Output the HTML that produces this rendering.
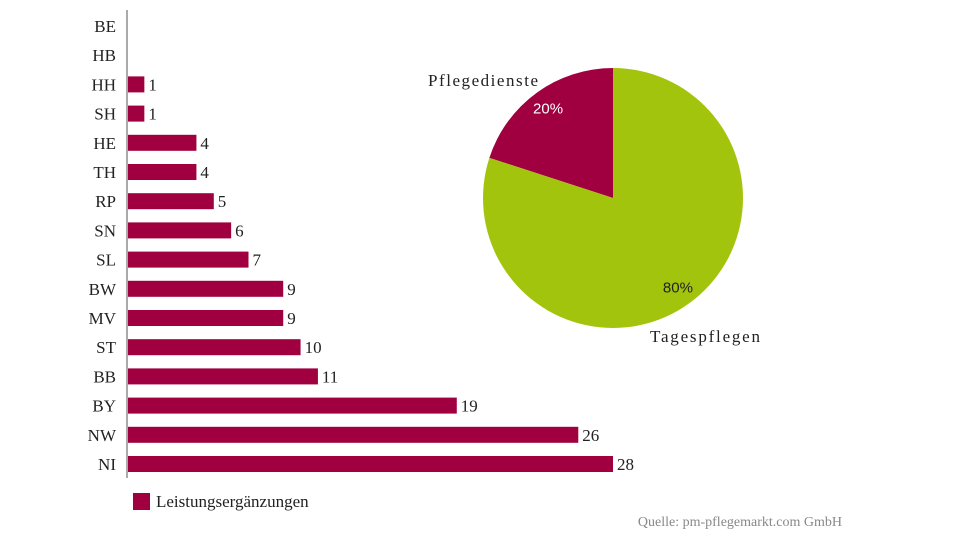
<!DOCTYPE html>
<html><head><meta charset="utf-8"><style>
body{margin:0;width:960px;height:540px;background:#fff;overflow:hidden}
svg{display:block}
.lab{font-family:"Liberation Serif",serif;font-size:17px;fill:#222}
</style></head><body>
<svg id="c" width="960" height="540"></svg>
<script>
const categories=["BE","HB","HH","SH","HE","TH","RP","SN","SL","BW","MV","ST","BB","BY","NW","NI"];
const values=[0,0,1,1,4,4,5,6,7,9,9,10,11,19,26,28];
const pieLabels=["Pflegedienste","Tagespflegen"];
const pieValues=[20,80];
const NS="http://www.w3.org/2000/svg";
const svg=document.getElementById('c');
function mk(t,a,p){const e=document.createElementNS(NS,t);for(const k in a)e.setAttribute(k,a[k]);(p||svg).appendChild(e);return e;}
const x0=127,scale=(613-127)/28;
const xs=v=>x0+v*scale;
const ys=i=>26+i*29.2;
const axis=mk('line',{x1:x0,y1:10,x2:x0,y2:478,stroke:'#555','stroke-width':1});


categories.forEach((c,i)=>{
  const t=mk('text',{x:116,y:ys(i)+6,'text-anchor':'end',class:'lab'});t.textContent=c;
  
  
  if(values[i]>0){
    const r=mk('rect',{x:x0+1,y:ys(i)-8,width:xs(values[i])-x0-1,height:16,fill:'#a0003f'});
    
    
    const v=mk('text',{x:xs(values[i])+4,y:ys(i)+6,class:'lab'});v.textContent=values[i];
    
    
  }
});
const lg=mk('rect',{x:133,y:493,width:17,height:17,fill:'#a0003f'});


const lt=mk('text',{x:156,y:507,class:'lab'});lt.textContent='Leistungsergänzungen';


const src=mk('text',{x:842,y:526,'text-anchor':'end','font-family':'Liberation Serif,serif','font-size':'14px',fill:'#888'});src.textContent='Quelle: pm-pflegemarkt.com GmbH';


const cx=613,cy=198,R=130;
const tot=pieValues.reduce((a,b)=>a+b,0);
const colors=['#a0003f','#a3c40c'];
let a0=-Math.PI/2;
pieValues.forEach((v,i)=>{
  const sweep=v/tot*2*Math.PI;
  const a1=a0-sweep;
  const p1=[cx+R*Math.cos(a0),cy+R*Math.sin(a0)],p2=[cx+R*Math.cos(a1),cy+R*Math.sin(a1)];
  const large=sweep>Math.PI?1:0;
  const s=mk('path',{d:`M${cx},${cy}L${p1[0]},${p1[1]}A${R},${R} 0 ${large} 0 ${p2[0]},${p2[1]}Z`,fill:colors[i]});
  
  
  const m=(a0+a1)/2;
  const pt=mk('text',{x:cx+R*0.85*Math.cos(m),y:cy+R*0.85*Math.sin(m)+5,'text-anchor':'middle','font-family':'Liberation Sans,sans-serif','font-size':'15px',fill:i==0?'#fff':'#222'});
  pt.textContent=v+'%';
  
  
  a0=a1;
});
const l1=mk('text',{x:428,y:86,class:'lab','textLength':110});l1.textContent=pieLabels[0];


const l2=mk('text',{x:650,y:342,class:'lab','textLength':110});l2.textContent=pieLabels[1];


</script>
</body></html>
